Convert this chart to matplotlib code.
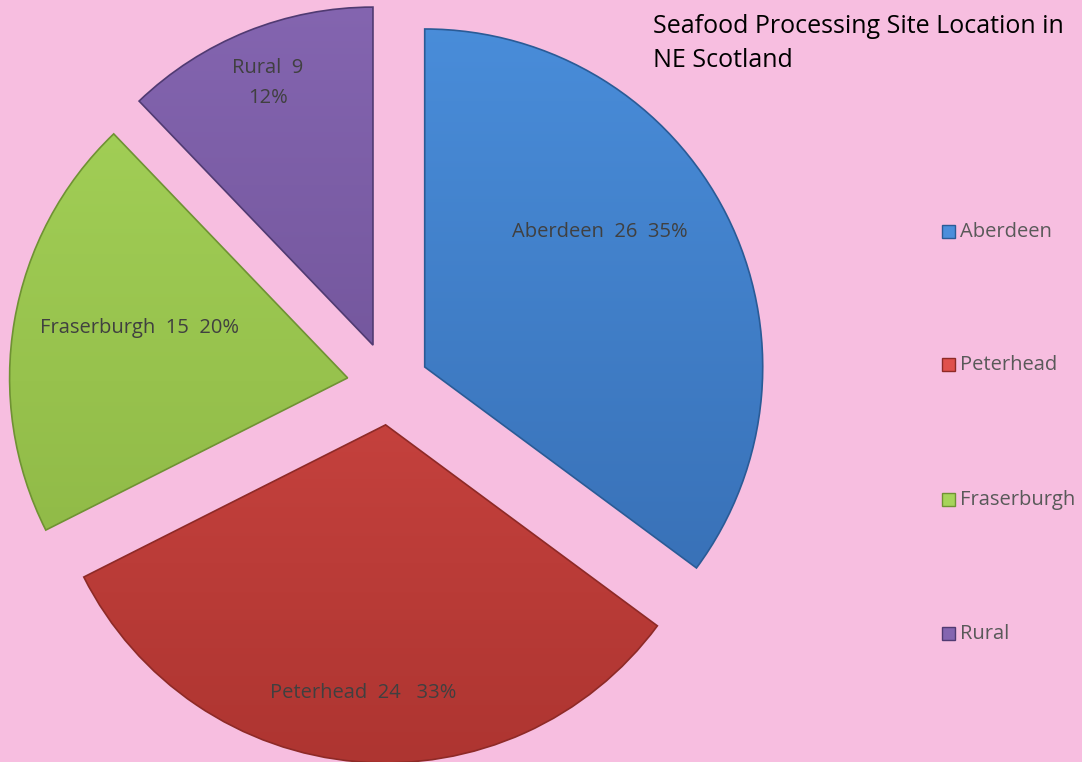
import numpy as np
import matplotlib
matplotlib.use("Agg")
import matplotlib.pyplot as plt
from matplotlib.colors import LinearSegmentedColormap

sites = ["Aberdeen", "Peterhead", "Fraserburgh", "Rural"]
counts = [26, 24, 15, 9]
pct_labels = ["35%", "33%", "20%", "12%"]

light = ["#4A8EDB", "#E0504C", "#A6D45A", "#8465B0"]
dark = ["#3368AC", "#AE3531", "#88B040", "#634889"]
edge = ["#2A5B96", "#8E2A27", "#6F9233", "#503A72"]
bg = "#F7BEE0"

fig = plt.figure(figsize=(10.82, 7.62), dpi=100)
fig.patch.set_facecolor(bg)
ax = fig.add_axes([0, 0, 1, 1])
ax.set_facecolor(bg)

wedges, _ = ax.pie(counts, radius=338, center=(389, 377), startangle=90,
                   counterclock=False, explode=[40, 40, 42, 43],
                   colors=light, frame=True,
                   wedgeprops=dict(linewidth=1.2))

# vertical shading inside each slice, a bit like the Excel bevel look
grad = np.linspace(0, 1, 256).reshape(-1, 1)
for w, c1, c2, ec in zip(wedges, light, dark, edge):
    w.set_edgecolor(ec)
    cm = LinearSegmentedColormap.from_list("g", [c1, c2])
    im = ax.imshow(grad, cmap=cm, extent=(0, 1082, 0, 762), aspect="auto",
                   origin="upper", zorder=w.get_zorder() + 0.1)
    im.set_clip_path(w)
    w.set_zorder(w.get_zorder() + 0.2)
    w.set_facecolor("none")

ax.set_xlim(0, 1082)
ax.set_ylim(0, 762)
ax.set_aspect("equal")
ax.axis("off")

lab_font = "Open Sans"
txt_col = "#404040"
label_pos = [(600, 530), (363, 69), (140, 434), (268, 679)]
for i, (x, y) in enumerate(label_pos):
    if sites[i] == "Rural":
        s = "%s  %d\n%s" % (sites[i], counts[i], pct_labels[i])
    elif sites[i] == "Peterhead":
        s = "%s  %d   %s" % (sites[i], counts[i], pct_labels[i])
    else:
        s = "%s  %d  %s" % (sites[i], counts[i], pct_labels[i])
    ax.text(x, y, s, ha="center", va="center", fontsize=14.5,
            family=lab_font, color=txt_col, zorder=10, linespacing=1.65)

ax.text(653, 748, "Seafood Processing Site Location in\nNE Scotland",
        ha="left", va="top", fontsize=18, family=lab_font, color="black",
        linespacing=1.45, zorder=10)

# legend
leg_y = [530, 397, 262, 128]
for i in range(4):
    ax.add_patch(plt.Rectangle((942, leg_y[i] - 6), 13, 13,
                               facecolor=light[i], edgecolor=edge[i], lw=1, zorder=10))
    ax.text(960, leg_y[i], sites[i], ha="left", va="center", fontsize=14.5,
            family=lab_font, color="#595959", zorder=10)

fig.savefig("out.png", dpi=100, facecolor=bg)
